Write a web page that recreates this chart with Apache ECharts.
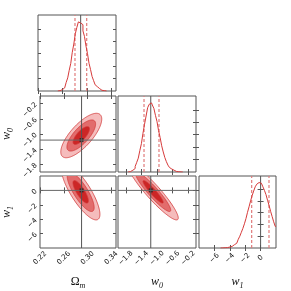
<!DOCTYPE html>
<html><head><meta charset="utf-8">
<script src="https://cdn.jsdelivr.net/npm/echarts@6/dist/echarts.min.js"></script>
<style>html,body{margin:0;padding:0;background:#fff}#c{width:291px;height:291px}</style>
</head><body><div id="c"></div>
<script>
// ---- data ----
const omRange = [0.22, 0.348];
const w0Range = [-2.0, 0.0];
const w1Range = [-8.0, 2.0];
const omTicks = [0.22, 0.26, 0.30, 0.34];
const w0Ticks = [-1.8, -1.4, -1.0, -0.6, -0.2];
const w1Ticks = [-6, -4, -2, 0];
const histTicks = [0.18, 0.36, 0.54, 0.72, 0.9];
const histMax = [1.1];
const truthValues = [0.29, -1.16, 0.0];
const omQuantiles = [0.2807, 0.2999];
const w0Quantiles = [-1.333, -0.949];
const w1Quantiles = [-1.16, 1.09];

const omCenters = [0.2525,0.255,0.2575,0.26,0.2625,0.265,0.2675,0.27,0.2725,0.275,0.2775,0.28,0.2825,0.285,0.2875,0.29,0.2925,0.295,0.2975,0.30,0.3025,0.305,0.3075,0.31,0.3125,0.315,0.3175,0.32,0.3225,0.325,0.3275,0.33,0.3325];
const omCounts  = [0,0.005,0.012,0.02,0.045,0.07,0.125,0.19,0.3,0.40,0.56,0.68,0.83,0.92,1.0,0.985,0.96,0.87,0.79,0.65,0.54,0.40,0.31,0.21,0.15,0.09,0.062,0.034,0.021,0.01,0.006,0.002,0];

const w0Centers = [-1.74,-1.70,-1.66,-1.62,-1.58,-1.54,-1.50,-1.46,-1.42,-1.38,-1.34,-1.30,-1.26,-1.22,-1.18,-1.14,-1.10,-1.06,-1.02,-0.98,-0.94,-0.90,-0.86,-0.82,-0.78,-0.74,-0.70,-0.66,-0.62,-0.58,-0.54,-0.50,-0.46,-0.42,-0.38,-0.34];
const w0Counts  = [0,0.006,0.015,0.025,0.05,0.08,0.14,0.2,0.31,0.41,0.56,0.69,0.81,0.93,0.98,1.0,0.97,0.92,0.82,0.73,0.6,0.5,0.38,0.29,0.21,0.15,0.1,0.065,0.043,0.025,0.015,0.008,0.004,0.002,0.001,0];

const w1Centers = [-5.2,-5.0,-4.8,-4.6,-4.4,-4.2,-4.0,-3.8,-3.6,-3.4,-3.2,-3.0,-2.8,-2.6,-2.4,-2.2,-2.0,-1.8,-1.6,-1.4,-1.2,-1.0,-0.8,-0.6,-0.4,-0.2,0.0,0.2,0.4,0.6,0.8,1.0,1.2,1.4,1.6,1.8,2.0];
const w1Counts  = [0,0.001,0.003,0.004,0.006,0.01,0.015,0.024,0.035,0.05,0.072,0.1,0.133,0.18,0.24,0.3,0.37,0.45,0.545,0.63,0.72,0.8,0.87,0.935,0.975,1.0,0.99,0.975,0.935,0.88,0.815,0.73,0.65,0.56,0.48,0.4,0.33];

// ellipse parameters: [centre x, centre y, sigma x, sigma y, correlation]
const omW0Ellipse = [0.2895, -1.04, 0.0115, 0.195, 0.74];
const omW1Ellipse = [0.2885, -0.2, 0.0108, 1.3, -0.80];
const w0W1Ellipse = [-1.10, -0.2, 0.215, 1.3, -0.93];
const contourLevels = [3.0, 2.1, 1.2];

// ---- styling / layout ----
const contourFills = ['#f5bcbc', '#e26c6c', '#cc2626'];
const contourStroke = '#d23a3a';
const panelLeft = [38, 118, 199];
const panelWidth = [78, 78, 77];
const panelTop = [15, 96, 176];
const panelHeight = 76;

const minus = '\u2212';
const fmt = [
  v => v.toFixed(2),
  v => (v < 0 ? minus : '') + Math.abs(v).toFixed(1),
  v => (v < 0 ? minus : '') + Math.abs(v).toFixed(0)
];
const ranges = [omRange, w0Range, w1Range];
const ticks = [omTicks, w0Ticks, w1Ticks];
const names = ['{u|\u03a9}{s|m}', '{i|w}{s|0}', '{i|w}{s|1}'];
const rich = {
  u: {fontFamily: 'Liberation Serif', fontSize: 12, color: '#111', verticalAlign: 'top', lineHeight: 12},
  i: {fontFamily: 'Liberation Serif', fontStyle: 'italic', fontSize: 12, color: '#111', verticalAlign: 'top', lineHeight: 12},
  s: {fontFamily: 'Liberation Serif', fontStyle: 'italic', fontSize: 8, color: '#111', verticalAlign: 'top', lineHeight: 9, padding: [6, 0, 0, 0]}
};
const labelFont = {fontSize: 7, fontFamily: 'DejaVu Sans', color: '#111'};

// panels: col, row, x variable, y variable (-1 = histogram)
const panels = [
  [0, 0, 0, -1],
  [0, 1, 0, 1],
  [1, 1, 1, -1],
  [0, 2, 0, 2],
  [1, 2, 1, 2],
  [2, 2, 2, -1]
];

const grids = [], xAxes = [], yAxes = [], series = [];
panels.forEach((p, i) => {
  const [col, row, xv, yv] = p;
  grids.push({left: panelLeft[col], top: panelTop[row], width: panelWidth[col], height: panelHeight,
    show: true, borderColor: '#555', borderWidth: 1, backgroundColor: 'transparent'});
  const showX = row === 2;
  const tickStyle = {inside: true, length: 3, lineStyle: {color: '#555', width: 1}};
  xAxes.push({gridIndex: i, type: 'value', position: 'bottom', min: ranges[xv][0], max: ranges[xv][1],
    axisLine: {show: false}, splitLine: {show: false},
    axisTick: Object.assign({customValues: ticks[xv]}, tickStyle),
    axisLabel: Object.assign({show: showX, customValues: ticks[xv], rotate: 45, align: 'center', verticalAlign: 'middle',
      margin: 10, formatter: fmt[xv]}, labelFont),
    name: showX ? names[xv] : '', nameLocation: 'middle', nameGap: 28, nameTextStyle: {rich: rich}});
  xAxes.push({gridIndex: i, type: 'value', position: 'top', min: ranges[xv][0], max: ranges[xv][1],
    axisLine: {show: false}, splitLine: {show: false},
    axisTick: Object.assign({customValues: ticks[xv]}, tickStyle), axisLabel: {show: false}});
  const yMin = yv < 0 ? 0 : ranges[yv][0];
  const yMaxV = yv < 0 ? histMax[0] : ranges[yv][1];
  const yt = yv < 0 ? histTicks : ticks[yv];
  const showY = yv >= 0 && col === 0;
  yAxes.push({gridIndex: i, type: 'value', position: 'left', min: yMin, max: yMaxV,
    axisLine: {show: false}, splitLine: {show: false},
    axisTick: Object.assign({customValues: yt}, tickStyle),
    axisLabel: Object.assign({show: showY, customValues: yt, rotate: 45, margin: 4,
      formatter: yv >= 0 ? fmt[yv] : null}, labelFont),
    name: showY ? names[yv] : '', nameLocation: 'middle', nameGap: 27, nameTextStyle: {rich: rich}});
  yAxes.push({gridIndex: i, type: 'value', position: 'right', min: yMin, max: yMaxV,
    axisLine: {show: false}, splitLine: {show: false},
    axisTick: Object.assign({customValues: yt}, tickStyle), axisLabel: {show: false}});

  const xi = 2 * i, yi = 2 * i;
  if (yv < 0) {
    const centers = [omCenters, w0Centers, w1Centers][xv];
    const counts = [omCounts, w0Counts, w1Counts][xv];
    const quants = [omQuantiles, w0Quantiles, w1Quantiles][xv];
    quants.forEach(q => series.push({type: 'line', xAxisIndex: xi, yAxisIndex: yi, symbol: 'none', silent: true,
      data: [[q, 0], [q, histMax[0]]], lineStyle: {color: '#e07b7b', width: 1.2, type: [3, 2]}}));
    series.push({type: 'line', xAxisIndex: xi, yAxisIndex: yi, symbol: 'none', silent: true,
      data: [[truthValues[xv], 0], [truthValues[xv], histMax[0]]], lineStyle: {color: '#555', width: 1}});
    series.push({type: 'line', xAxisIndex: xi, yAxisIndex: yi, symbol: 'none', step: 'middle', silent: true, clip: true,
      data: centers.map((c, k) => [c, counts[k]]), lineStyle: {color: '#d63a3a', width: 1}});
  } else {
    const ell = xv === 0 && yv === 1 ? omW0Ellipse : (xv === 0 ? omW1Ellipse : w0W1Ellipse);
    contourLevels.forEach((r, li) => {
      series.push({type: 'custom', xAxisIndex: xi, yAxisIndex: yi, clip: true, silent: true,
        data: [[ell[0], ell[1]]],
        renderItem: function (params, api) {
          const [cx, cy, sx, sy, rho] = ell;
          const k = Math.sqrt(1 - rho * rho);
          const pts = [];
          for (let j = 0; j < 160; j++) {
            const t = j / 160 * 2 * Math.PI;
            pts.push(api.coord([cx + r * sx * Math.cos(t), cy + r * sy * (rho * Math.cos(t) + k * Math.sin(t))]));
          }
          return {type: 'polygon', shape: {points: pts}, style: {fill: contourFills[li], stroke: contourStroke, lineWidth: 0.8}};
        }});
    });
    const tx = truthValues[xv], ty = truthValues[yv];
    series.push({type: 'line', xAxisIndex: xi, yAxisIndex: yi, symbol: 'none', silent: true,
      data: [[tx, ranges[yv][0]], [tx, ranges[yv][1]]], lineStyle: {color: '#555', width: 1}});
    series.push({type: 'line', xAxisIndex: xi, yAxisIndex: yi, symbol: 'none', silent: true,
      data: [[ranges[xv][0], ty], [ranges[xv][1], ty]], lineStyle: {color: '#666', width: 1}});
    series.push({type: 'scatter', xAxisIndex: xi, yAxisIndex: yi, silent: true, symbol: 'rect', symbolSize: 4,
      data: [[tx, ty]], itemStyle: {color: '#222'}});
  }
});

const chart = echarts.init(document.getElementById('c'), null, {renderer: 'canvas'});
chart.setOption({animation: false, backgroundColor: '#fff', grid: grids, xAxis: xAxes, yAxis: yAxes, series: series});
</script>
</body></html>
